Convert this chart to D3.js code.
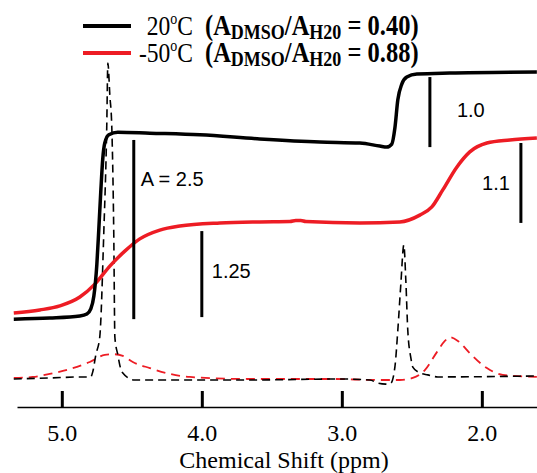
<!DOCTYPE html>
<html>
<head>
<meta charset="utf-8">
<script src="https://cdn.jsdelivr.net/npm/d3@7/dist/d3.min.js"></script>
<style>
  body { margin: 0; background: #fff; }
  .serif { font-family: "Liberation Serif", "Times New Roman", serif; }
  .sans { font-family: "Liberation Sans", Arial, sans-serif; }
</style>
</head>
<body>
<div id="chart"></div>
<script>
// --- Data (ppm vs. arbitrary intensity) ---

// 20 C integral trace (black, solid)
var blackIntPpm = [5.343, 5.086, 4.871, 4.821, 4.793, 4.771, 4.750, 4.736, 4.721, 4.707, 4.693, 4.664, 4.600, 4.371, 4.014, 3.586, 3.157, 2.871, 2.729, 2.679, 2.643, 2.621, 2.600, 2.571, 2.536, 2.464, 2.229, 1.607];
var blackIntVal = [17.9, 18.2, 18.8, 19.4, 20.9, 24.7, 33.8, 44.1, 55.9, 65.3, 69.7, 72.1, 72.9, 72.6, 72.1, 70.9, 70.0, 69.7, 68.8, 68.5, 69.4, 74.1, 82.4, 87.1, 89.1, 90.0, 90.3, 90.6];

// -50 C integral trace (red, solid)
var redIntPpm = [5.343, 5.157, 5.014, 4.871, 4.764, 4.657, 4.550, 4.443, 4.300, 4.157, 3.871, 3.586, 3.371, 3.329, 3.293, 3.257, 2.871, 2.586, 2.443, 2.357, 2.279, 2.179, 2.086, 1.964, 1.800, 1.607];
var redIntVal = [19.7, 20.6, 21.8, 24.4, 28.2, 33.5, 37.9, 41.5, 44.1, 45.3, 46.2, 46.5, 46.6, 46.9, 46.9, 46.6, 46.2, 46.5, 48.5, 50.9, 55.9, 62.6, 67.1, 69.7, 70.6, 71.2];

// 20 C spectrum (black, dashed)
var blackSpecPpm = [5.343, 5.086, 4.850, 4.793, 4.779, 4.757, 4.729, 4.700, 4.679, 4.671, 4.657, 4.643, 4.629, 4.621, 4.600, 4.571, 4.479, 4.300, 3.657, 3.014, 2.800, 2.743, 2.686, 2.650, 2.621, 2.600, 2.579, 2.557, 2.543, 2.529, 2.507, 2.493, 2.443, 2.386, 2.314, 1.607];
var blackSpecVal = [0.3, 0.6, 0.9, 0.9, 2.4, 7.4, 12.6, 43.5, 74.4, 93.2, 83.8, 74.4, 43.5, 12.6, 7.4, 2.4, 0, 0, 0, 0.3, 0, -0.9, -1.2, -0.9, 3.8, 14.7, 27.9, 39.7, 29.4, 14.7, 6.5, 3.8, 2.1, 1.5, 0.9, 1.2];

// -50 C spectrum (red, dashed)
var redSpecPpm = [5.343, 5.207, 5.086, 4.943, 4.800, 4.693, 4.636, 4.564, 4.493, 4.371, 4.229, 4.086, 3.657, 3.086, 2.729, 2.586, 2.493, 2.407, 2.321, 2.264, 2.229, 2.171, 2.086, 1.964, 1.850, 1.607];
var redSpecVal = [0.6, 0.9, 1.8, 3.2, 5.3, 7.4, 7.6, 7.1, 5.3, 3.5, 1.8, 0.9, 0.3, 0.3, 0, 0, 0.6, 2.9, 8.2, 11.5, 12.6, 11.5, 7.9, 3.5, 1.5, 0.9];

// Integral step markers
var markPpm = [4.486, 4.0, 2.371, 1.721];
var markTop = [70.6, 43.8, 89.1, 69.7];
var markBottom = [17.9, 18.5, 68.5, 46.2];
var markLabel = ["A = 2.5", "1.25", "1.0", "1.1"];

// Axis ticks
var tickValues = [5.0, 4.0, 3.0, 2.0];

// Legend
var legendTemp = ["20", "-50"];
var legendRatio = ["0.40", "0.88"];
var legendColor = ["#000000", "#ed1c24"];

// --- Chart ---
var w = 537;
var h = 473;

var svg = d3.select("#chart")
    .append("svg")
    .attr("width", w)
    .attr("height", h);

var x = d3.scaleLinear()
    .domain([5.32, 1.606])
    .range([17, w]);

var y = d3.scaleLinear()
    .domain([0, 100])
    .range([380, 40]);

var line = d3.line()
    .x(function (d) { return x(d[0]); })
    .y(function (d) { return y(d[1]); })
    .curve(d3.curveMonotoneX);

// dashed spectra
svg.append("path")
    .datum(d3.zip(redSpecPpm, redSpecVal))
    .attr("d", line)
    .attr("fill", "none")
    .attr("stroke", "#ed1c24")
    .attr("stroke-width", 1.8)
    .attr("stroke-dasharray", "9,6");

svg.append("path")
    .datum(d3.zip(blackSpecPpm, blackSpecVal))
    .attr("d", line)
    .attr("fill", "none")
    .attr("stroke", "#000")
    .attr("stroke-width", 1.6)
    .attr("stroke-dasharray", "8,5");

// integral traces
svg.append("path")
    .datum(d3.zip(redIntPpm, redIntVal))
    .attr("d", line)
    .attr("fill", "none")
    .attr("stroke", "#ed1c24")
    .attr("stroke-width", 3.5);

svg.append("path")
    .datum(d3.zip(blackIntPpm, blackIntVal))
    .attr("d", line)
    .attr("fill", "none")
    .attr("stroke", "#000")
    .attr("stroke-width", 3.5);

// integral markers
svg.selectAll("line.mark")
    .data(markPpm)
    .enter()
    .append("line")
    .attr("class", "mark")
    .attr("x1", function (d) { return x(d); })
    .attr("x2", function (d) { return x(d); })
    .attr("y1", function (d, i) { return y(markTop[i]); })
    .attr("y2", function (d, i) { return y(markBottom[i]); })
    .attr("stroke", "#000")
    .attr("stroke-width", 3);

// label offsets relative to each marker (dx, baseline)
var labelDx = [7, 10, 27, -11];
var labelDy = [186, 278, 117, 190];
svg.selectAll("text.mark")
    .data(markLabel)
    .enter()
    .append("text")
    .attr("class", "mark sans")
    .attr("x", function (d, i) { return x(markPpm[i]) + labelDx[i]; })
    .attr("y", function (d, i) { return labelDy[i]; })
    .attr("text-anchor", function (d, i) { return labelDx[i] < 0 ? "end" : "start"; })
    .style("font-size", "20px")
    .attr("fill", "#000")
    .text(function (d) { return d; });

// x axis
var axis = d3.axisBottom(x)
    .tickValues(tickValues)
    .tickFormat(d3.format(".1f"))
    .tickSizeInner(-16)
    .tickSizeOuter(0)
    .tickPadding(17);

var gx = svg.append("g")
    .attr("transform", "translate(0,407)")
    .call(axis);

gx.attr("font-family", null).attr("font-size", null);
gx.select(".domain").attr("stroke-width", 1.5);
gx.selectAll(".tick line").attr("stroke-width", 3);
gx.selectAll(".tick text")
    .attr("class", "serif")
    .style("font-size", "24px")
    .attr("fill", "#000");

svg.append("text")
    .attr("class", "serif")
    .attr("x", 284)
    .attr("y", 468)
    .attr("text-anchor", "middle")
    .style("font-size", "24px")
    .text("Chemical Shift (ppm)");

// legend
var rowY = [26, 53];
legendTemp.forEach(function (t, i) {
    var g = svg.append("g");
    g.append("line")
        .attr("x1", 83)
        .attr("x2", 131)
        .attr("y1", rowY[i])
        .attr("y2", rowY[i])
        .attr("stroke", legendColor[i])
        .attr("stroke-width", 4);

    var base = rowY[i] + 9;

    var t1 = g.append("text")
        .attr("class", "serif")
        .attr("transform", "translate(193," + base + ") scale(1,1.2)")
        .attr("text-anchor", "end")
        .style("font-size", "23.5px");
    t1.append("tspan").text(t);
    t1.append("tspan").style("font-size", "14px").attr("dy", -9).text("o");
    t1.append("tspan").attr("dy", 9).text("C");

    var t2 = g.append("text")
        .attr("class", "serif")
        .attr("transform", "translate(205," + base + ") scale(1,1.2)")
        .style("font-weight", "bold")
        .style("font-size", "24.5px");
    t2.append("tspan").text("(A");
    t2.append("tspan").style("font-size", "18px").attr("dy", 3).text("DMSO");
    t2.append("tspan").attr("dy", -3).text("/A");
    t2.append("tspan").style("font-size", "18px").attr("dy", 3).text("H20");
    t2.append("tspan").attr("dy", -3).text(" = " + legendRatio[i] + ")");
});
</script>
</body>
</html>
